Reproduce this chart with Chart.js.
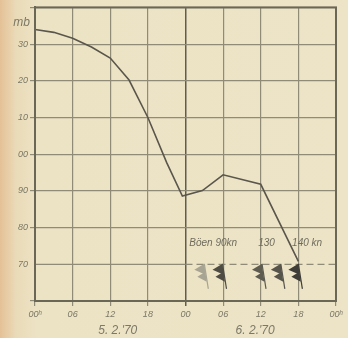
<!DOCTYPE html>
<html>
<head>
<meta charset="utf-8">
<script src="https://cdn.jsdelivr.net/npm/chart.js@4.4.0/dist/chart.umd.min.js"></script>
<style>
  html, body { margin: 0; padding: 0; }
  body {
    width: 348px; height: 338px; overflow: hidden;
    background: linear-gradient(to right, #e4c196 0px, #eadbb8 16px, #ece2c4 36px, #ede4c7 100%);
  }
  #wrap { position: relative; width: 348px; height: 338px; }
</style>
</head>
<body>
<div id="wrap"><canvas id="chart" width="348" height="338"></canvas></div>
<script>
// pressure trace, hours from 00h on 5.2.70
const hours = [0, 3, 6, 9, 12, 15, 18, 21, 23.5, 26.7, 30, 36, 42];
const pressure = [1034.0, 1033.2, 1031.6, 1029.2, 1026.2, 1020.2, 1010.0, 997.7, 988.6, 990.1, 994.4, 991.8, 970.8];

const xTicks = ['00ʰ', '06', '12', '18', '00', '06', '12', '18', '00ʰ'];
const yTicks = { 1030: '30', 1020: '20', 1010: '10', 1000: '00', 990: '90', 980: '80', 970: '70' };

const dayLabels = ["5. 2.'70", "6. 2.'70"];
const dayHours = [13.2, 35.1];

// wind flags (gusts)
const barbHours = [27.0, 29.9, 36.2, 39.2, 42.0];
const barbShade = ['#a8a493', '#4f4c44', '#5e5b50', '#57544b', '#3f3d37'];
const gustText = ['Böen 90kn', '130', '140 kn'];
const gustHours = [24.6, 35.6, 41.0];

const lineColor = '#5a564c';
const gridColor = '#8f8b77';
const textColor = '#7b7866';

const extras = {
  id: 'extras',
  afterDatasetsDraw(chart) {
    const ctx = chart.ctx;
    const x = chart.scales.x, y = chart.scales.y;
    ctx.save();
    // unit label
    ctx.fillStyle = textColor;
    ctx.font = 'italic 12px "Liberation Sans"';
    ctx.textAlign = 'right';
    ctx.textBaseline = 'middle';
    ctx.fillText('mb', 30, 23);

    // dates under the axis
    ctx.font = 'italic 12px "Liberation Sans"';
    ctx.textAlign = 'center';
    dayLabels.forEach((t, i) => ctx.fillText(t, x.getPixelForValue(dayHours[i]), 331));

    // gust text
    ctx.font = 'italic 10px "Liberation Sans"';
    ctx.textAlign = 'left';
    ctx.fillStyle = '#6f6c5d';
    gustText.forEach((t, i) => ctx.fillText(t, x.getPixelForValue(gustHours[i]), y.getPixelForValue(975.8)));

    // wind flags
    const y0 = y.getPixelForValue(969.3);
    barbHours.forEach((h, i) => {
      const px = x.getPixelForValue(h);
      ctx.strokeStyle = barbShade[i];
      ctx.fillStyle = barbShade[i];
      ctx.lineWidth = 1.2;
      ctx.beginPath();
      ctx.moveTo(px, y0 - 3);
      ctx.lineTo(px + 4, y0 + 22);
      ctx.stroke();
      ctx.beginPath();
      ctx.moveTo(px, y0 - 3);
      ctx.lineTo(px - 10, y0 + 3);
      ctx.lineTo(px + 1.3, y0 + 8);
      ctx.closePath();
      ctx.fill();
      ctx.beginPath();
      ctx.moveTo(px + 1.1, y0 + 5);
      ctx.lineTo(px - 7, y0 + 10);
      ctx.lineTo(px + 2.4, y0 + 15);
      ctx.closePath();
      ctx.fill();
    });
    ctx.restore();
  }
};

new Chart(document.getElementById('chart'), {
  type: 'line',
  data: {
    datasets: [
      {
        data: [{ x: 0, y: 970 }, { x: 24, y: 970 }],
        borderColor: gridColor, borderWidth: 1.2, pointRadius: 0, order: 3
      },
      {
        data: [{ x: 24, y: 970 }, { x: 48, y: 970 }],
        borderColor: gridColor, borderWidth: 1.2, borderDash: [7, 4], pointRadius: 0, order: 3
      },
      {
        data: hours.map((h, i) => ({ x: h, y: pressure[i] })),
        borderColor: lineColor, borderWidth: 1.6, pointRadius: 0, tension: 0, order: 1
      }
    ]
  },
  options: {
    responsive: false,
    animation: false,
    layout: { padding: { top: 6, right: 12, left: 0, bottom: 0 } },
    plugins: { legend: { display: false }, tooltip: { enabled: false } },
    scales: {
      x: {
        type: 'linear', min: 0, max: 48,
        afterFit: s => { s.height = 37; },
        afterBuildTicks: s => { s.ticks = xTicks.map((t, i) => ({ value: i * 6 })); },
        ticks: {
          callback: (v, i) => xTicks[i],
          color: textColor, padding: 3, maxRotation: 0, autoSkip: false,
          font: { family: 'Liberation Sans', style: 'italic', size: 9 }
        },
        grid: {
          color: c => c.tick && c.tick.value === 24 ? '#5f5c50' : gridColor,
          lineWidth: c => c.tick && c.tick.value === 24 ? 1.5 : 1.2,
          tickLength: 5
        },
        border: { color: '#6a6757', width: 2 }
      },
      y: {
        min: 960, max: 1040,
        afterFit: s => { s.width = 35; },
        ticks: {
          stepSize: 10,
          callback: v => yTicks[v] || '',
          color: textColor, padding: 2,
          font: { family: 'Liberation Sans', style: 'italic', size: 9 }
        },
        grid: {
          color: c => c.tick && c.tick.value === 970 ? 'rgba(0,0,0,0)' : gridColor,
          lineWidth: 1.2,
          tickLength: 5
        },
        border: { color: '#6a6757', width: 2 }
      }
    }
  },
  plugins: [extras, {
    id: 'frame',
    afterDraw(chart) {
      const a = chart.chartArea, ctx = chart.ctx;
      ctx.save();
      ctx.strokeStyle = '#6a6757';
      ctx.lineWidth = 2;
      ctx.strokeRect(a.left, a.top, a.right - a.left, a.bottom - a.top);
      ctx.restore();
    }
  }]
});
</script>
</body>
</html>
